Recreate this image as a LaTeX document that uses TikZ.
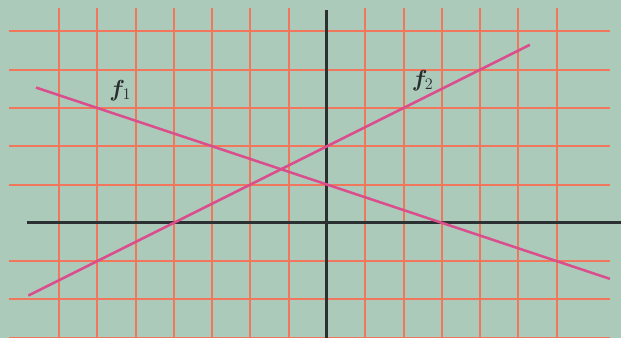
\documentclass[tikz,border=0pt]{standalone}
\usepackage{bm}
\definecolor{fond}{RGB}{172,202,186}
\definecolor{grille}{RGB}{240,118,92}
\definecolor{rose}{RGB}{218,78,140}
\definecolor{axe}{RGB}{45,48,50}
\definecolor{etiq}{RGB}{40,44,46}
\begin{document}
\begin{tikzpicture}
		% Fond
		\fill[fond] (-8.54,-3.0) rectangle (7.68,5.82);
		\clip (-8.54,-3.0) rectangle (7.68,5.82);

		% Quadrillage
		\foreach \x in {-7,-6,-5,-4,-3,-2,-1,1,2,3,4,5,6}
			\draw[grille,line width=1.5pt] (\x,5.6) -- (\x,-3.1);
		\foreach \y in {-3,-2,-1,1,2,3,4,5}
			\draw[grille,line width=1.5pt] (-8.3,\y) -- (7.39,\y);

		% Axes
		\draw[axe,line width=2.2pt] (-7.83,0) -- (7.8,0);
		\draw[axe,line width=2.2pt] (0,5.56) -- (0,-3.1);

		% Droites
		\draw[line width=1.9pt,color=rose,domain=-7.6:7.39] plot(\x,{1-\x/3});
		\draw[line width=1.9pt,color=rose,domain=-7.8:5.3] plot(\x,{\x/2+2});
		\node[etiq] (f1) at (-5.4,3.46) {\LARGE$\bm{f}_{1}$};
		\node[etiq] (f2) at (2.5,3.72) {\LARGE$\bm{f}_{2}$};

	\end{tikzpicture}
\end{document}
